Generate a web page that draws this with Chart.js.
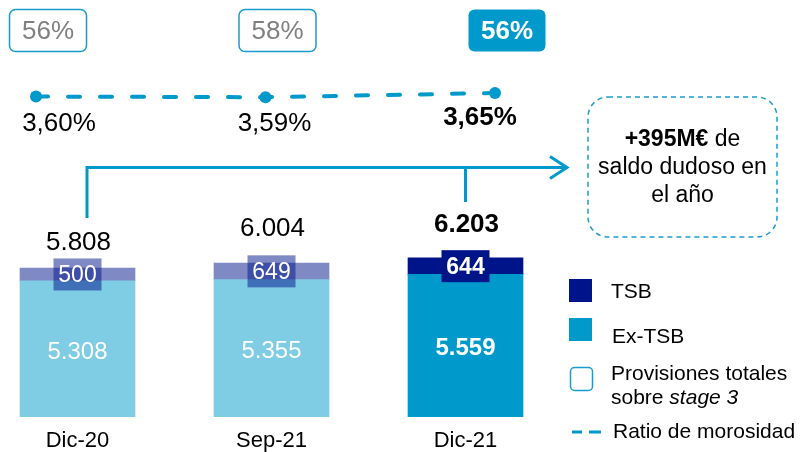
<!DOCTYPE html>
<html lang="es">
<head>
<meta charset="utf-8">
<title>Saldo dudoso y ratio de morosidad</title>
<script src="https://cdn.jsdelivr.net/npm/chart.js@4.4.1/dist/chart.umd.min.js"></script>
<style>
  html, body { margin: 0; padding: 0; background: #fff; }
  #wrap { width: 802px; height: 452px; position: relative; }
</style>
</head>
<body>
<div id="wrap"><canvas id="grafico"></canvas></div>
<script>
// Saldo dudoso (M€) por periodo
const periodos = ['Dic-20', 'Sep-21', 'Dic-21'];
const saldoExTsb = [5308, 5355, 5559];
const saldoTsb = [500, 649, 644];
// Ratio de morosidad (%) y provisiones totales sobre stage 3 (%)
const ratioMorosidad = [3.60, 3.59, 3.65];
const coberturaStage3 = [56, 58, 56];

const totales = saldoExTsb.map((v, i) => v + saldoTsb[i]);
const actual = periodos.length - 1;   // el último periodo va resaltado

const AZUL = '#0099cc';
const AZUL_CLARO = '#7fcce5';
const MARINO = '#00148a';
const MARINO_CLARO = '#7f89c4';
const BORDE = '#1a9bd0';
const FUENTE = "'Liberation Sans', Arial, sans-serif";

Chart.defaults.font.family = FUENTE;
Chart.defaults.color = '#000';

const miles = v => String(v).replace(/\B(?=(\d{3})+(?!\d))/g, '.');
const porcentaje = v => v.toFixed(2).replace('.', ',') + '%';
const fuente = (px, estilo) => (estilo ? estilo + ' ' : '') + px + 'px ' + FUENTE;

// ajustes finos de las etiquetas
const elevarTotal = [25, 34, 33];
const desplazarRatio = [23, 9, -15];

const anotaciones = {
  id: 'anotaciones',
  afterDatasetsDraw(chart) {
    const ctx = chart.ctx;
    const sx = chart.scales.x;
    const exMeta = chart.getDatasetMeta(0);
    const tsbMeta = chart.getDatasetMeta(1);
    const lineaMeta = chart.getDatasetMeta(2);
    ctx.save();
    ctx.textAlign = 'center';
    ctx.textBaseline = 'middle';

    // valores Ex-TSB dentro de la barra
    exMeta.data.forEach((bar, i) => {
      ctx.fillStyle = '#fff';
      ctx.font = fuente(24, i === actual ? 'bold' : '');
      ctx.fillText(miles(saldoExTsb[i]), bar.x, (bar.y + bar.base) / 2 + 3);
    });

    // valores TSB en su recuadro
    tsbMeta.data.forEach((bar, i) => {
      const cy = (bar.y + bar.base) / 2;
      ctx.fillStyle = i === actual ? MARINO : 'rgba(0, 20, 137, 0.5)';
      ctx.fillRect(bar.x - 24, cy - 16, 48, 32);
      ctx.fillStyle = '#fff';
      ctx.font = fuente(23, i === actual ? 'bold' : '');
      ctx.fillText(saldoTsb[i], bar.x, cy + 1);
      // total encima de la barra
      ctx.fillStyle = '#000';
      ctx.font = fuente(26, i === actual ? 'bold' : '');
      ctx.fillText(miles(totales[i]), bar.x + 1, bar.y - elevarTotal[i]);
    });

    // ratio de morosidad bajo cada punto y cobertura arriba
    lineaMeta.data.forEach((pt, i) => {
      ctx.fillStyle = '#000';
      ctx.font = fuente(26, i === actual ? 'bold' : '');
      ctx.fillText(porcentaje(ratioMorosidad[i]), pt.x + desplazarRatio[i], pt.y + (i === actual ? 25 : 27));

      const cx = pt.x + 12;
      ctx.beginPath();
      ctx.roundRect(cx - 38.5, 9.5, 77, 42, 6);
      if (i === actual) {
        ctx.fillStyle = AZUL;
        ctx.fill();
        ctx.fillStyle = '#fff';
        ctx.font = fuente(26, 'bold');
      } else {
        ctx.strokeStyle = BORDE;
        ctx.lineWidth = 1.5;
        ctx.stroke();
        ctx.fillStyle = '#808080';
        ctx.font = fuente(26);
      }
      ctx.fillText(coberturaStage3[i] + '%', cx, 32);
    });

    // flecha de variación anual
    const x0 = sx.getPixelForValue(0) + 9.5;
    const x2 = sx.getPixelForValue(actual);
    ctx.strokeStyle = AZUL;
    ctx.lineWidth = 3;
    ctx.beginPath();
    ctx.moveTo(x0, 218);
    ctx.lineTo(x0, 167.5);
    ctx.lineTo(567, 167.5);
    ctx.moveTo(x2, 167.5);
    ctx.lineTo(x2, 202);
    ctx.moveTo(550, 156.5);
    ctx.lineTo(567, 167.5);
    ctx.lineTo(550, 178.5);
    ctx.stroke();

    // recuadro explicativo
    ctx.beginPath();
    ctx.setLineDash([5, 4]);
    ctx.lineWidth = 1.5;
    ctx.strokeStyle = BORDE;
    ctx.roundRect(588, 97, 189, 140, 20);
    ctx.stroke();
    ctx.setLineDash([]);
    ctx.fillStyle = '#000';
    const cxBox = 682.5;
    ctx.font = fuente(23, 'bold');
    const parteNegrita = '+395M€';
    const wN = ctx.measureText(parteNegrita).width;
    ctx.font = fuente(23);
    const wR = ctx.measureText(' de').width;
    ctx.textAlign = 'left';
    ctx.font = fuente(23, 'bold');
    ctx.fillText(parteNegrita, cxBox - (wN + wR) / 2, 140);
    ctx.font = fuente(23);
    ctx.fillText(' de', cxBox - (wN + wR) / 2 + wN, 140);
    ctx.textAlign = 'center';
    ctx.fillText('saldo dudoso en', cxBox, 168);
    ctx.fillText('el año', cxBox, 196);

    // leyenda
    ctx.fillStyle = MARINO;
    ctx.fillRect(569, 279, 23, 23);
    ctx.fillStyle = AZUL;
    ctx.fillRect(569, 318, 23, 23);
    ctx.beginPath();
    ctx.strokeStyle = BORDE;
    ctx.lineWidth = 1.5;
    ctx.roundRect(570.5, 367.5, 22, 23, 4);
    ctx.stroke();
    ctx.beginPath();
    ctx.lineWidth = 3;
    ctx.strokeStyle = AZUL;
    ctx.moveTo(572, 432);
    ctx.lineTo(582, 432);
    ctx.moveTo(589, 432);
    ctx.lineTo(601, 432);
    ctx.stroke();

    ctx.textAlign = 'left';
    ctx.fillStyle = '#000';
    ctx.font = fuente(21);
    ctx.fillText('TSB', 611, 292);
    ctx.fillText('Ex-TSB', 612, 337);
    ctx.fillText('Provisiones totales', 611, 374);
    ctx.fillText('sobre ', 611, 398);
    const wSobre = ctx.measureText('sobre ').width;
    ctx.font = fuente(21, 'italic');
    ctx.fillText('stage 3', 611 + wSobre, 398);
    ctx.font = fuente(21);
    ctx.fillText('Ratio de morosidad', 613, 432);

    ctx.restore();
  }
};

new Chart(document.getElementById('grafico'), {
  type: 'bar',
  data: {
    datasets: [
      {
        label: 'Ex-TSB',
        data: saldoExTsb.map((v, i) => ({ x: i, y: v })),
        backgroundColor: saldoExTsb.map((v, i) => i === actual ? AZUL : AZUL_CLARO),
        barThickness: 115,
        grouped: false,
        borderWidth: 0
      },
      {
        label: 'TSB',
        data: saldoTsb.map((v, i) => ({ x: i, y: v })),
        backgroundColor: saldoTsb.map((v, i) => i === actual ? MARINO : MARINO_CLARO),
        barThickness: 115,
        grouped: false,
        borderWidth: 0
      },
      {
        type: 'line',
        label: 'Ratio de morosidad',
        data: ratioMorosidad.map((v, i) => ({ x: i, y: v })),
        xAxisID: 'xLinea',
        yAxisID: 'yLinea',
        borderColor: AZUL,
        borderWidth: 4,
        borderDash: [12, 20],
        borderCapStyle: 'round',
        pointRadius: 6,
        pointBackgroundColor: AZUL,
        pointBorderWidth: 0,
        tension: 0
      }
    ]
  },
  options: {
    responsive: true,
    maintainAspectRatio: false,
    animation: false,
    layout: { padding: 0, autoPadding: false },
    plugins: {
      legend: { display: false },
      tooltip: { enabled: false }
    },
    scales: {
      x: {
        type: 'linear',
        stacked: true,
        offset: false,
        min: -0.3995,
        max: 3.7345,
        grid: { display: false, drawTicks: false },
        border: { display: false },
        afterBuildTicks: scale => { scale.ticks = periodos.map((p, i) => ({ value: i })); },
        afterFit: scale => { scale.height = 35; },
        ticks: {
          autoSkip: false,
          maxRotation: 0,
          padding: 13,
          color: '#000',
          font: { size: 22, lineHeight: 1 },
          callback: v => periodos[v] ?? ''
        }
      },
      y: {
        display: false,
        stacked: true,
        min: 0,
        max: 16260
      },
      xLinea: {
        type: 'linear',
        display: false,
        offset: false,
        min: -0.1569,
        max: 3.3377
      },
      yLinea: {
        type: 'linear',
        display: false,
        min: -0.978,
        max: 4.979
      }
    }
  },
  plugins: [anotaciones]
});
</script>
</body>
</html>
